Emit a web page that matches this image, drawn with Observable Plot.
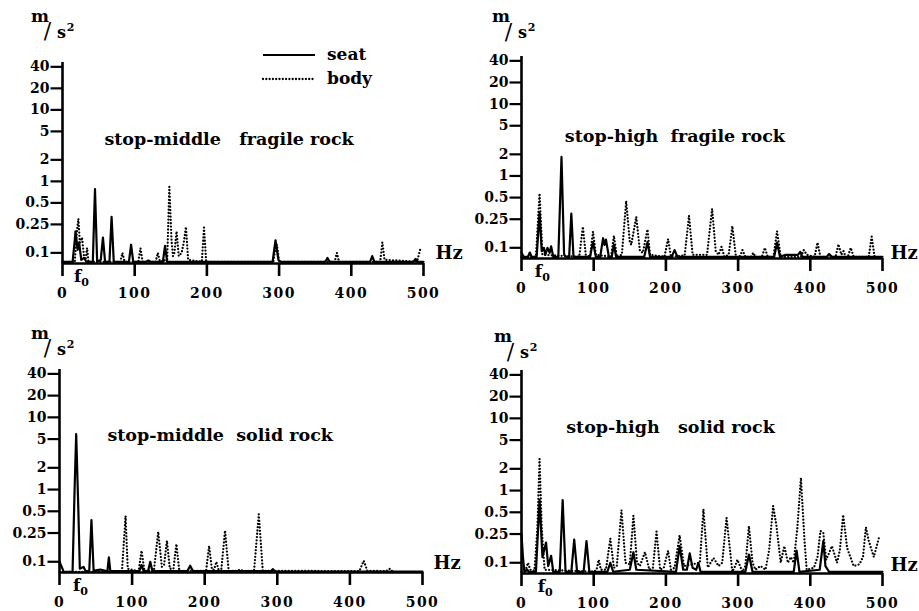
<!DOCTYPE html>
<html>
<head>
<meta charset="utf-8">
<script src="https://cdn.jsdelivr.net/npm/d3@7"></script>
<script src="https://cdn.jsdelivr.net/npm/@observablehq/plot@0.6"></script>
<style>
  html, body { margin: 0; padding: 0; background: #fff; }
  #chart { position: relative; width: 919px; height: 611px; overflow: hidden; background: #fff; }
  #chart > div, #chart > svg { position: absolute; }
</style>
</head>
<body>
<div id="chart"></div>
<script>
// ---------- data (Hz, m/s²) ----------
const xTicks = [0, 100, 200, 300, 400, 500];
const yTicks = [0.1, 0.25, 0.5, 1, 2, 5, 10, 20, 40];
const yTickLabels = ["0.1", "0.25", "0.5", "1", "2", "5", "10", "20", "40"];
const seriesNames = ["seat", "body"];
const panelTitles = ["stop-middle   fragile rock", "stop-high  fragile rock", "stop-middle  solid rock", "stop-high   solid rock"];
const f0Hz = [21, 23.5, 23.5, 27.5];

const seatMiddleFragile = [[0,0.075],[14,0.075],[17,0.15],[18,0.2],[21,0.11],[23,0.14],[26,0.08],[30,0.085],[33,0.075],[42,0.075],[45,0.78],[48,0.075],[53,0.08],[56,0.164],[59,0.075],[65,0.075],[68,0.32],[71,0.075],[92,0.075],[95,0.13],[98,0.075],[116,0.075],[119,0.078],[122,0.075],[139,0.075],[142,0.125],[145,0.075],[291,0.075],[295,0.15],[299,0.08],[302,0.075],[364,0.075],[367,0.085],[370,0.075],[426,0.075],[429,0.09],[432,0.075],[486,0.075],[489,0.082],[492,0.075],[500,0.075]];
const bodyMiddleFragile = [[0,0.074],[17,0.075],[20,0.2],[22,0.3],[24,0.14],[27,0.164],[30,0.085],[32,0.08],[34,0.117],[36,0.075],[80,0.075],[83,0.1],[86,0.075],[105,0.075],[108,0.116],[111,0.075],[129,0.075],[132,0.1],[135,0.075],[145,0.08],[148,0.84],[151,0.15],[153,0.09],[155,0.1],[158,0.2],[161,0.09],[165,0.1],[168,0.14],[171,0.23],[174,0.08],[193,0.075],[196,0.226],[199,0.075],[292,0.075],[295,0.12],[297,0.13],[300,0.075],[377,0.075],[380,0.1],[383,0.075],[440,0.075],[443,0.14],[446,0.08],[491,0.075],[496,0.118]];

const seatHighFragile = [[0,0.086],[3,0.075],[9,0.075],[11.5,0.086],[14,0.075],[21,0.075],[25,0.31],[28,0.09],[31,0.1],[33,0.08],[36,0.1],[39,0.085],[41,0.105],[44,0.075],[51,0.075],[55.4,1.84],[59,0.08],[62,0.075],[66,0.075],[69,0.3],[72,0.075],[95,0.075],[99,0.12],[103,0.075],[109,0.075],[113,0.136],[115,0.11],[117,0.13],[121,0.075],[125,0.075],[128,0.11],[131,0.075],[170,0.075],[174.5,0.12],[178,0.075],[208,0.075],[212,0.093],[216,0.075],[350,0.075],[354,0.118],[358,0.075],[366,0.08],[383,0.08],[386,0.088],[389,0.075],[423,0.075],[426,0.082],[430,0.075],[500,0.075]];
const bodyHighFragile = [[0,0.074],[20,0.075],[25,0.57],[29,0.08],[80,0.075],[85,0.196],[89,0.08],[95,0.075],[99,0.168],[103,0.08],[124,0.075],[128,0.147],[132,0.075],[139,0.08],[145,0.45],[150,0.12],[152,0.11],[159,0.27],[164,0.09],[168,0.085],[174.5,0.18],[178,0.08],[198,0.075],[203,0.132],[207,0.075],[226,0.078],[232,0.28],[237,0.08],[257,0.08],[264,0.35],[269,0.09],[273,0.08],[277,0.103],[281,0.075],[287,0.08],[292,0.2],[297,0.075],[302,0.075],[306,0.093],[310,0.075],[318,0.075],[321,0.085],[324,0.075],[333,0.075],[337,0.1],[341,0.075],[349,0.075],[354,0.17],[359,0.075],[387,0.075],[391,0.093],[395,0.08],[406,0.075],[410,0.118],[414,0.075],[435,0.075],[439,0.112],[443,0.08],[446,0.09],[449,0.075],[452,0.075],[456,0.1],[460,0.075],[481,0.075],[485,0.143],[489,0.075],[492,0.074]];

const seatMiddleSolid = [[0,0.1],[3,0.085],[6,0.072],[18,0.073],[21,1.2],[23,5.85],[26,0.5],[28,0.08],[33,0.085],[36,0.074],[41,0.075],[44,0.377],[47,0.075],[56,0.078],[66,0.074],[68,0.115],[70,0.074],[110,0.074],[113,0.09],[116,0.074],[122,0.074],[125,0.1],[128,0.074],[176,0.074],[180,0.088],[184,0.074],[291,0.074],[294,0.079],[297,0.073],[500,0.073]];
const bodyMiddleSolid = [[0,0.072],[86,0.073],[91,0.43],[94,0.08],[109,0.074],[113,0.142],[117,0.075],[130,0.075],[136,0.26],[141,0.085],[144,0.09],[148,0.195],[152,0.08],[157,0.08],[161,0.176],[165,0.075],[202,0.075],[206,0.166],[210,0.078],[213,0.078],[216,0.1],[219,0.078],[223,0.08],[228,0.27],[233,0.075],[245,0.075],[249,0.078],[253,0.074],[268,0.075],[274.5,0.456],[280,0.075],[413,0.074],[419,0.103],[424,0.075],[450,0.074],[455,0.08],[459,0.073]];

const seatHighSolid = [[0,0.25],[2,0.12],[4,0.075],[8,0.08],[10,0.075],[20,0.075],[25,0.74],[29,0.12],[34,0.19],[37,0.09],[41,0.125],[44,0.075],[53,0.075],[57,0.74],[61,0.075],[69,0.075],[73,0.21],[77,0.075],[86,0.075],[90,0.2],[94,0.075],[119,0.075],[123,0.1],[127,0.075],[150,0.08],[155,0.14],[159,0.08],[214,0.075],[219,0.17],[224,0.08],[229,0.08],[233,0.135],[237,0.085],[242,0.08],[245,0.1],[248,0.075],[310,0.075],[315,0.13],[320,0.075],[377,0.075],[381,0.147],[385,0.075],[413,0.08],[418,0.2],[421,0.09],[426,0.075],[500,0.075]];
const bodyHighSolid = [[0,0.075],[6,0.08],[9,0.1],[12,0.08],[18,0.078],[22,0.3],[25,2.73],[28,0.3],[32,0.08],[100,0.075],[104,0.08],[107,0.11],[110,0.08],[117,0.08],[123,0.217],[128,0.085],[132,0.09],[138.5,0.535],[144,0.1],[150,0.095],[155,0.45],[160,0.1],[164,0.09],[171,0.14],[177,0.08],[182,0.085],[187,0.27],[192,0.08],[197,0.085],[203,0.147],[207,0.08],[212,0.085],[219,0.24],[225,0.09],[247,0.1],[252,0.55],[258,0.086],[262,0.1],[266,0.116],[273,0.09],[278,0.1],[284,0.42],[292,0.075],[296,0.09],[299,0.11],[306,0.075],[310,0.09],[315,0.32],[320,0.1],[324,0.08],[331,0.09],[338,0.08],[343,0.15],[348.5,0.61],[353,0.33],[359,0.1],[364,0.17],[369,0.1],[373,0.12],[377,0.1],[382,0.3],[387,1.5],[392,0.2],[395,0.08],[405,0.085],[410,0.12],[414,0.275],[418,0.26],[422,0.11],[430,0.17],[437,0.1],[441,0.15],[445.5,0.46],[451,0.16],[460,0.09],[468,0.095],[473,0.12],[477,0.31],[481,0.2],[488,0.12],[496,0.24]];

// ---------- layout ----------
const FONT = "'DejaVu Serif', 'Liberation Serif', serif";
const Y_DOMAIN = [0.071, 46];
const DOT_DASH = "0 3.3";

const panels = [
  {seat: seatMiddleFragile, body: bodyMiddleFragile, title: panelTitles[0], f0: f0Hz[0],
   left: 0, top: 0, width: 460, height: 300, mL: 62, mR: 37, mT: 62, mB: 37,
   tx: 58, ty: 3.9, unit: [-22.5, -45], hz: [12, -10]},
  {seat: seatHighFragile, body: bodyHighFragile, title: panelTitles[1], f0: f0Hz[1],
   left: 460, top: 0, width: 459, height: 300, mL: 61, mR: 37, mT: 56, mB: 42,
   tx: 60, ty: 3.5, unit: [-20.5, -38.5], hz: [8, -5]},
  {seat: seatMiddleSolid, body: bodyMiddleSolid, title: panelTitles[2], f0: f0Hz[2],
   left: 0, top: 300, width: 460, height: 311, mL: 59, mR: 38, mT: 69, mB: 39,
   tx: 66, ty: 5.7, unit: [-19.5, -35], hz: [11, -9]},
  {seat: seatHighSolid, body: bodyHighSolid, title: panelTitles[3], f0: f0Hz[3],
   left: 460, top: 300, width: 459, height: 311, mL: 61, mR: 37, mT: 70, mB: 38,
   tx: 62, ty: 7.4, unit: [-18.5, -32.5], hz: [8, -8]}
];

// small horizontal tick pointing left from the y axis
const leftTick = {draw(context) { context.moveTo(-12, 0); context.lineTo(0, 0); }};

const chart = document.getElementById("chart");

for (const p of panels) {
  const [ux, uy] = p.unit;
  const unitText = (s, dx, dy, size, weight) =>
    Plot.text([s], {frameAnchor: "top-left", text: d => d, textAnchor: "middle", lineAnchor: "middle",
      dx: ux + dx, dy: uy + dy, fontSize: size, fontWeight: weight});
  const plot = Plot.plot({
    width: p.width, height: p.height,
    marginLeft: p.mL, marginRight: p.mR, marginTop: p.mT, marginBottom: p.mB,
    x: {domain: [0, 500]},
    y: {type: "log", domain: Y_DOMAIN, axis: null},
    style: {fontFamily: FONT, fontWeight: "bold", color: "black", background: "transparent", overflow: "visible"},
    marks: [
      Plot.line(p.body, {x: d => d[0], y: d => d[1], stroke: "black", strokeWidth: 2.3,
        strokeDasharray: DOT_DASH, strokeLinecap: "round", strokeLinejoin: "round"}),
      Plot.line(p.seat, {x: d => d[0], y: d => d[1], stroke: "black", strokeWidth: 2.2, strokeLinejoin: "round"}),
      Plot.ruleY([Y_DOMAIN[0]], {stroke: "black", strokeWidth: 2.6}),
      Plot.ruleX([0], {stroke: "black", strokeWidth: 2.6}),
      Plot.axisX({ticks: xTicks, tickSize: 13, tickPadding: 12, strokeWidth: 2.6, fontSize: 14, fontWeight: "bold", label: null}),
      // y axis (log): ticks and labels
      Plot.dot(yTicks, {y: d => d, frameAnchor: "left", symbol: leftTick, stroke: "black", strokeWidth: 2.2, fill: "none"}),
      Plot.text(yTicks, {y: d => d, text: (d, i) => yTickLabels[i], frameAnchor: "left", textAnchor: "end",
        lineAnchor: "middle", dx: -13, fontSize: 14, fontWeight: "bold"}),
      Plot.text([p.title], {x: p.tx, y: p.ty, text: d => d, textAnchor: "start", lineAnchor: "middle", fontSize: 17.5, fontWeight: "bold"}),
      Plot.text(["Hz"], {frameAnchor: "bottom-right", text: d => d, textAnchor: "start", lineAnchor: "middle",
        dx: p.hz[0], dy: p.hz[1], fontSize: 18, fontWeight: "bold"}),
      Plot.text(["f"], {x: p.f0, frameAnchor: "bottom", text: d => d, textAnchor: "middle", lineAnchor: "middle", dy: 13, fontSize: 17, fontWeight: "bold"}),
      Plot.text(["0"], {x: p.f0, frameAnchor: "bottom", text: d => d, textAnchor: "middle", lineAnchor: "middle", dx: 7.5, dy: 19, fontSize: 11, fontWeight: "bold"}),
      unitText("m", 0, -1, 17, "bold"),
      unitText("/", 7.5, 13.5, 22, "normal"),
      unitText("s", 21.5, 15, 16, "bold"),
      unitText("2", 30.5, 9.5, 11, "bold")
    ]
  });
  plot.style.position = "absolute";
  plot.style.left = p.left + "px";
  plot.style.top = p.top + "px";
  // wide digit spacing on the x axis labels, as in the reference
  d3.select(plot).selectAll("g[aria-label='x-axis tick label'] text").style("letter-spacing", "1.5px");
  chart.appendChild(plot);
}

// ---------- legend ----------
const ns = "http://www.w3.org/2000/svg";
const legend = document.createElementNS(ns, "svg");
legend.setAttribute("width", 140);
legend.setAttribute("height", 60);
legend.style.left = "255px";
legend.style.top = "35px";
legend.style.fontFamily = FONT;
const legendRows = [
  {name: seriesNames[0], y: 20, dash: null},
  {name: seriesNames[1], y: 44, dash: DOT_DASH}
];
for (const r of legendRows) {
  const l = document.createElementNS(ns, "line");
  l.setAttribute("x1", 8); l.setAttribute("x2", 60);
  l.setAttribute("y1", r.y); l.setAttribute("y2", r.y);
  l.setAttribute("stroke", "black");
  l.setAttribute("stroke-width", r.dash ? 2.3 : 2.2);
  if (r.dash) { l.setAttribute("stroke-dasharray", r.dash); l.setAttribute("stroke-linecap", "round"); }
  legend.appendChild(l);
  const t = document.createElementNS(ns, "text");
  t.setAttribute("x", 72); t.setAttribute("y", r.y + 5);
  t.setAttribute("font-size", 17); t.setAttribute("font-weight", "bold");
  t.textContent = r.name;
  legend.appendChild(t);
}
chart.appendChild(legend);
</script>
</body>
</html>
